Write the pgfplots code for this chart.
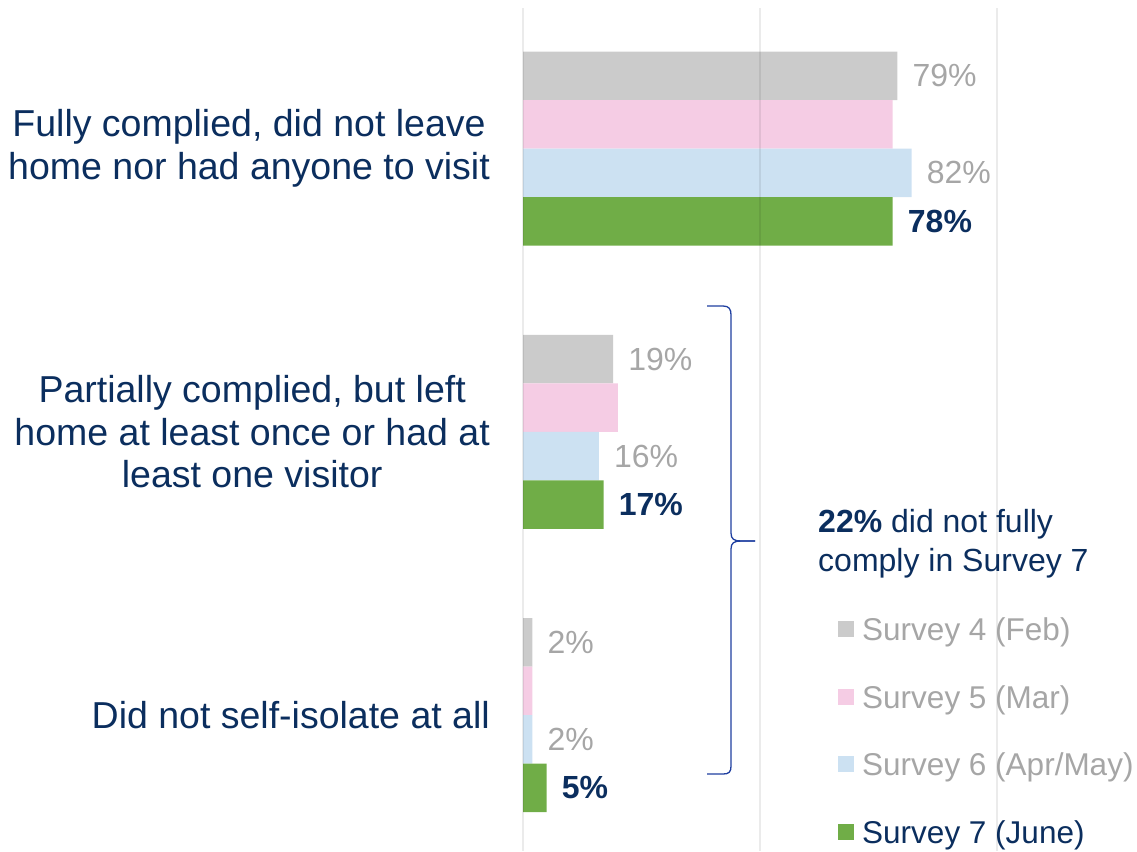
\documentclass[border=0pt]{standalone}
\usepackage{fontspec}
\setmainfont{Liberation Sans}
\usepackage{pgfplots}
\pgfplotsset{compat=1.18}
\usepackage{pgfplotstable}
\definecolor{gfour}{HTML}{CBCBCB}
\definecolor{pfive}{HTML}{F5CCE4}
\definecolor{bsix}{HTML}{CCE1F2}
\definecolor{gseven}{HTML}{70AD47}
\definecolor{navy}{HTML}{0B2E5E}
\definecolor{lgrey}{HTML}{A6A6A6}
\definecolor{bracec}{HTML}{1F3FA0}
\newcommand\labf{\fontsize{37.5}{42.5}\selectfont}
\newcommand\valf{\fontsize{32}{38}\selectfont}
\newcommand\legf{\fontsize{31.5}{38}\selectfont}
\newcommand\annf{\fontsize{32}{38}\selectfont}

\pgfplotstableread{
cat s4 s5 s6 s7
0 79 78 82 78
1 19 20 16 17
2 2 2 2 5
}\datatable

\begin{document}
\begin{tikzpicture}
\path[use as bounding box] (0pt,0pt) rectangle (1137pt,-851pt);
\begin{axis}[
  at={(523pt,-8pt)}, anchor=north west,
  scale only axis, width=474pt, height=843pt,
  xbar, bar width=48.5pt,
  xmin=0, xmax=100, ymin=-0.496, ymax=2.48, y dir=reverse,
  axis line style={draw=none}, major tick length=0pt,
  xtick={0,50,100}, xticklabels={},
  xmajorgrids, grid style={draw=black, opacity=0.08, line width=1.4pt},
  axis on top,
  ytick={0,1,2},
  yticklabels={{Fully complied, did not leave\\home nor had anyone to visit},
               {Partially complied, but left\\home at least once or had at\\least one visitor},
               {Did not self-isolate at all}},
  yticklabel style={align=center, font=\labf, text=navy, inner sep=0pt, xshift=-33pt},
  /pgf/number format/assume math mode=true,
  legend style={at={(0.6646,0.2770)}, anchor=north west, draw=none, fill=none,
    inner sep=0pt, row sep=38.5pt, column sep=8pt, font=\legf,
    nodes={inner sep=0pt, text height=23pt, text depth=6pt}},
  legend cell align=left,
  legend image code/.code={\fill[#1] (0pt,-5pt) rectangle (16pt,11pt);},
]
\addplot[fill=gfour, draw=none, bar shift=72.75pt, point meta=x,
  nodes near coords={\pgfmathprintnumber{\pgfplotspointmeta}\%},
  every node near coord/.append style={text=lgrey, font=\valf, inner sep=0pt, anchor=west, xshift=15pt}]
  table[x=s4, y=cat]{\datatable};
\addlegendentry{\textcolor{lgrey}{Survey 4 (Feb)}}
\addplot[fill=pfive, draw=none, bar shift=24.25pt]
  table[x=s5, y=cat]{\datatable};
\addlegendentry{\textcolor{lgrey}{Survey 5 (Mar)}}
\addplot[fill=bsix, draw=none, bar shift=-24.25pt, point meta=x,
  nodes near coords={\pgfmathprintnumber{\pgfplotspointmeta}\%},
  every node near coord/.append style={text=lgrey, font=\valf, inner sep=0pt, anchor=west, xshift=15pt}]
  table[x=s6, y=cat]{\datatable};
\addlegendentry{\textcolor{lgrey}{Survey 6 (Apr/May)}}
\addplot[fill=gseven, draw=none, bar shift=-72.75pt, point meta=x,
  nodes near coords={\textbf{\pgfmathprintnumber{\pgfplotspointmeta}\%}},
  every node near coord/.append style={text=navy, font=\valf\bfseries, inner sep=0pt, anchor=west, xshift=15pt}]
  table[x=s7, y=cat]{\datatable};
\addlegendentry{\textcolor{navy}{Survey 7 (June)}}
\end{axis}
\draw[bracec, line width=1.3pt] (707pt,-306pt) -- (723pt,-306pt) .. controls (729pt,-306pt) and (731pt,-309pt) .. (731pt,-315pt) -- (731pt,-533pt) .. controls (731pt,-539pt) and (734pt,-541pt) .. (741pt,-541pt) -- (755pt,-541pt);
\draw[bracec, line width=1.3pt] (755pt,-541pt) -- (741pt,-541pt) .. controls (734pt,-541pt) and (731pt,-543pt) .. (731pt,-549pt) -- (731pt,-766pt) .. controls (731pt,-772pt) and (729pt,-774pt) .. (723pt,-774pt) -- (707pt,-774pt);
\node[anchor=base west, text=navy, font=\annf, inner sep=0pt] at (818pt,-532pt) {\textbf{22\%} did not fully};
\node[anchor=base west, text=navy, font=\annf, inner sep=0pt] at (818pt,-571pt) {comply in Survey 7};
\end{tikzpicture}
\end{document}
